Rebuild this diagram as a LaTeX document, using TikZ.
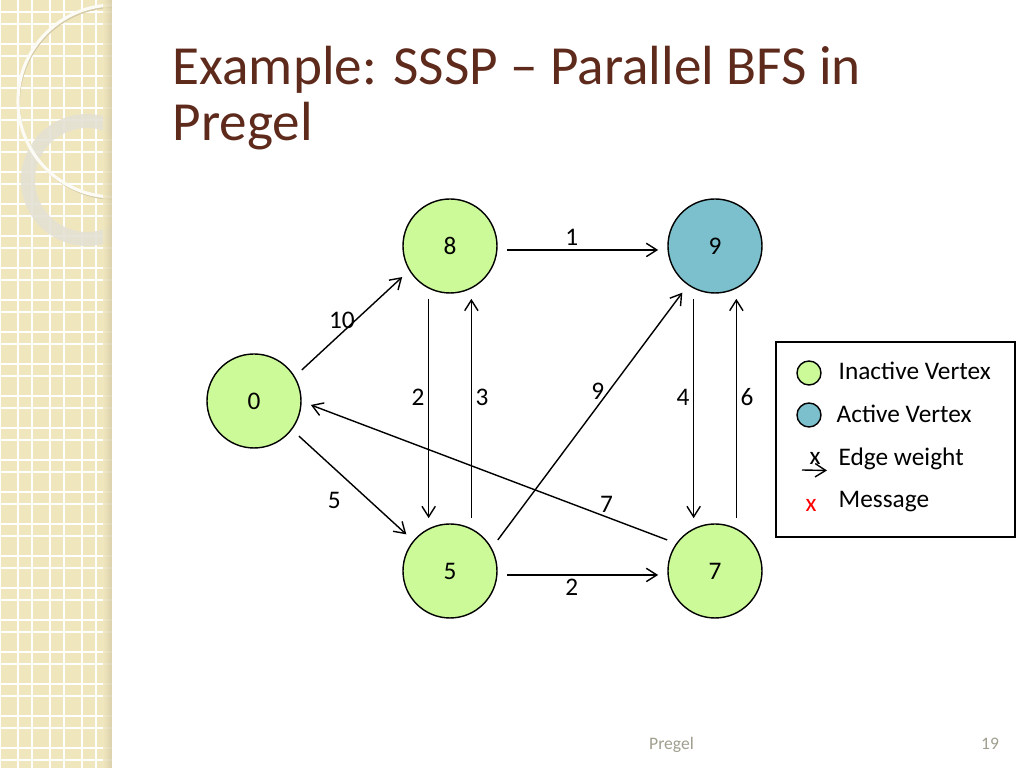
\documentclass[tikz,border=0pt]{standalone}
\usepackage{fontspec}
\setmainfont{Carlito}
\usetikzlibrary{%
  arrows.meta,%
  calc%
}
\definecolor{titlebrown}{RGB}{94,42,28}
\definecolor{inactivegreen}{RGB}{204,250,153}
\definecolor{activeblue}{RGB}{124,192,206}
\definecolor{stripcream}{RGB}{240,230,190}
\definecolor{stripshade}{RGB}{212,202,166}
\definecolor{ringgray}{RGB}{228,225,212}
\definecolor{footgray}{RGB}{160,158,142}
\tikzset{>={Straight Barb[length=3pt,width=3.8pt]}}
\tikzset{
  vertex/.style={circle,draw,line width=0.4pt,minimum size=0.94cm,inner sep=0pt,outer sep=0.1cm,font=\fontsize{7.2}{8.6}\selectfont},
  weight/.style={inner sep=1pt,font=\fontsize{7.2}{8.6}\selectfont},
  legendtext/.style={anchor=base west,inner sep=0pt,font=\fontsize{7.2}{8.6}\selectfont},
  msgedge/.style={->,line width=0.4pt}
}

\begin{document}
\begin{tikzpicture}
    \useasboundingbox (0,0) rectangle (10.24,7.68);
    % side strip
    \begin{scope}
      \clip (0,0) rectangle (1.12,7.68);
      \fill[stripcream] (0,0) rectangle (1.12,7.68);
      \foreach \k in {0,...,3} {
        \draw[white,line width=0.45pt] (0.32*\k,0) -- ++(0,7.68);
        \draw[white,line width=0.45pt] (0.32*\k+0.18,0) -- ++(0,7.68);
      }
      \foreach \k in {0,...,23} {
        \draw[white,line width=0.45pt] (0,0.32*\k+0.08) -- ++(1.12,0);
        \draw[white,line width=0.45pt] (0,0.32*\k+0.20) -- ++(1.12,0);
      }
      \fill[ringgray,opacity=0.9,even odd rule] (0.87,5.88) circle (0.66) (0.87,5.88) circle (0.52);
      \draw[stripshade,line width=0.5pt] (1.15,6.65) circle (0.96);
      \draw[white!85!stripcream,line width=0.9pt] (1.14,6.67) circle (0.96);
      \shade[left color=stripcream,right color=stripshade,opacity=0.8] (1.03,0) rectangle (1.12,7.68);
    \end{scope}
    % title
    \node[anchor=base west,inner sep=0pt,text=titlebrown,font=\fontsize{15.7}{19}\selectfont] (title1) at (1.72,6.83) {Example: SSSP -- Parallel BFS in};
    \node[anchor=base west,inner sep=0pt,text=titlebrown,font=\fontsize{15.7}{19}\selectfont] (title2) at (1.72,6.27) {Pregel};
    % vertices
    \node[vertex,fill=inactivegreen] (v0) at (2.54,3.67) {0};
    \node[vertex,fill=inactivegreen] (v8) at (4.50,5.22) {8};
    \node[vertex,fill=activeblue] (v9) at (7.15,5.22) {9};
    \node[vertex,fill=inactivegreen] (v5) at (4.50,1.97) {5};
    \node[vertex,fill=inactivegreen] (v7) at (7.15,1.97) {7};
    % edges
    \draw[msgedge] (v8.-4) -- (v9.184) node[weight,pos=0.43,above] {1};
    \draw[msgedge] (v5.-4) -- (v7.184) node[weight,pos=0.43,below] {2};
    \draw[msgedge] (v0.33) -- (v8.213) node[weight,pos=0.4,above] {10};
    \draw[msgedge] (v0.-38) -- (v5.140) node[weight,pos=0.33,below=0.2cm] {5};
    \draw[msgedge] (v8.248) -- (v5.112) node[weight,pos=0.45,left] {2};
    \draw[msgedge] (v5.68) -- (v8.292) node[weight,pos=0.55,right] {3};
    \draw[msgedge] (v5.33) -- (v9.235) node[weight,pos=0.6,left] {9};
    \draw[msgedge] (v9.248) -- (v7.112) node[weight,pos=0.45,left] {4};
    \draw[msgedge] (v7.68) -- (v9.292) node[weight,pos=0.55,right] {6};
    \draw[msgedge] (v7.147) -- (v0.-4) node[weight,pos=0.17,above] {7};
    % legend
    \node[draw,line width=0.6pt,minimum width=2.39cm,minimum height=1.95cm,inner sep=0pt] (legend) at (8.955,3.285) {};
    \node[circle,draw,line width=0.4pt,fill=inactivegreen,minimum size=0.24cm,inner sep=0pt] (lgin) at (8.09,3.95) {};
    \node[circle,draw,line width=0.4pt,fill=activeblue,minimum size=0.24cm,inner sep=0pt] (lgact) at (8.09,3.53) {};
    \node[legendtext] (lgtin) at (8.38,3.88) {Inactive Vertex};
    \node[legendtext] (lgtact) at (8.36,3.45) {Active Vertex};
    \node[legendtext] (lgtew) at (8.38,3.02) {Edge weight};
    \node[legendtext] (lgtmsg) at (8.38,2.60) {Message};
    \coordinate (ewa) at (8.02,2.98);
    \coordinate (ewb) at (8.27,2.975);
    \draw[msgedge] (ewa) -- (ewb);
    \node[weight] (ewx) at (8.15,3.10) {x};
    \node[weight,text=red] (msgx) at (8.11,2.63) {x};
    % footer
    \node[anchor=base,inner sep=0pt,text=footgray,font=\fontsize{5}{6}\selectfont] (foot) at (6.715,0.18) {Pregel};
    \node[anchor=base,inner sep=0pt,text=footgray,font=\fontsize{5}{6}\selectfont] (pagenum) at (9.90,0.18) {19};
  \end{tikzpicture}
\end{document}
